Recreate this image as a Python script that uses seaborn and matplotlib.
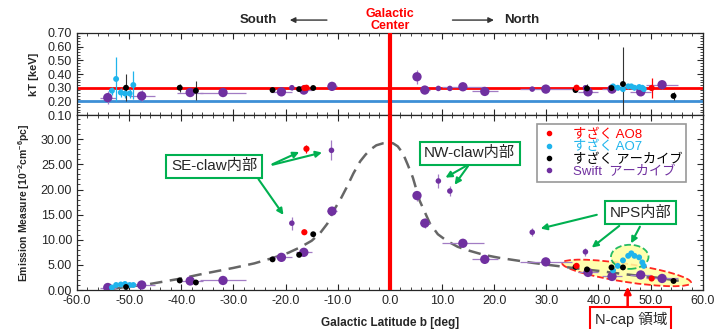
import matplotlib
matplotlib.use("Agg")
import matplotlib.pyplot as plt
from matplotlib.patches import Ellipse, FancyArrowPatch
from matplotlib.lines import Line2D
from matplotlib.ticker import MultipleLocator, FormatStrFormatter
import seaborn as sns

# ---- data ----
# すざく AO8
ao8_b = [-16.0, -16.4, 35.8, 50.2]
ao8_kt = [0.300, 0.298, 0.300, 0.298]
ao8_kt_err = [0.015, 0.01, 0.02, 0.07]
ao8_em = [28.1, 11.5, 4.8, 2.3]
ao8_em_err = [0.8, 0.3, 0.3, 0.2]

# すざく AO7
ao7_b = [-53.3, -52.5, -51.6, -50.8, -49.9, -49.2,
         42.8, 43.7, 44.7, 45.7, 46.3, 46.9, 47.8, 48.4, 48.7]
ao7_kt = [0.278, 0.364, 0.265, 0.258, 0.258, 0.320,
          0.310, 0.300, 0.290, 0.310, 0.310, 0.300, 0.305, 0.300, 0.290]
ao7_kt_err = [0.03, 0.16, 0.03, 0.03, 0.03, 0.10,
              0.02, 0.02, 0.02, 0.02, 0.02, 0.02, 0.02, 0.02, 0.02]
ao7_em = [0.5, 1.0, 1.1, 1.2, 1.0, 1.0,
          3.9, 4.8, 5.9, 6.8, 7.3, 6.8, 6.5, 5.5, 4.8]

# すざく アーカイブ
arc_b = [-50.6, -40.3, -37.2, -22.5, -17.4, -14.7, 35.6, 37.8, 42.5, 44.7, 54.4]
arc_kt = [0.300, 0.300, 0.278, 0.283, 0.290, 0.298, 0.283, 0.295, 0.298, 0.327, 0.240]
arc_kt_err = [0.10, 0.03, 0.07, 0.01, 0.01, 0.01, 0.01, 0.03, 0.01, 0.27, 0.03]
arc_em = [0.6, 1.9, 1.5, 6.1, 7.0, 11.1, 4.6, 4.1, 4.5, 4.5, 1.8]

# Swift アーカイブ (bright fields)
sw_b = [-54.1, -47.6, -38.3, -32.0, -20.8, -16.5, -11.1, 5.2, 6.7, 14.0,
        18.2, 29.9, 38.0, 42.6, 48.1, 52.2]
sw_b_err = [1.5, 2.5, 2.5, 4.5, 2.0, 1.5, 1.0, 0.5, 1.0, 4.0,
            2.5, 5.0, 2.0, 2.0, 2.0, 3.0]
sw_kt = [0.228, 0.240, 0.265, 0.265, 0.270, 0.283, 0.310, 0.380, 0.283, 0.307,
         0.273, 0.290, 0.270, 0.290, 0.270, 0.322]
sw_kt_err = [0.05, 0.04, 0.02, 0.02, 0.01, 0.01, 0.01, 0.05, 0.01, 0.01,
             0.01, 0.01, 0.02, 0.02, 0.02, 0.03]
sw_em = [0.5, 1.0, 1.8, 1.9, 6.5, 7.5, 15.7, 18.8, 13.3, 9.3,
         6.1, 5.6, 3.5, 2.7, 3.0, 2.3]
sw_em_err = [0.3, 0.3, 0.3, 0.3, 0.4, 0.5, 0.6, 1.0, 1.0, 0.6,
             0.5, 0.4, 0.3, 0.3, 0.3, 0.3]

# Swift アーカイブ (faint fields)
swf_b = [-18.8, -11.2, 9.3, 11.5, 27.3, 37.5]
swf_kt = [0.300, 0.310, 0.295, 0.295, 0.290, 0.300]
swf_kt_err = [0.02, 0.03, 0.01, 0.01, 0.01, 0.01]
swf_em = [13.3, 27.8, 21.7, 19.7, 11.5, 7.6]
swf_em_err = [1.3, 2.0, 1.3, 1.0, 0.8, 0.8]

# model curve (dashed gray)
curve_b = [-53.6, -46.0, -40.0, -36.4, -30.0, -26.0, -22.4, -19.5, -17.2, -15.0,
           -13.4, -12.0, -10.9, -9.5, -8.3, -7.0, -5.7, -4.7, -3.8, -2.6, -1.3,
           -0.3, 0.6, 1.5, 2.5, 3.4, 4.4, 5.7, 7.7, 9.2, 10.9, 13.0, 15.3, 18.0,
           21.0, 27.4, 35.0, 40.0, 45.4, 51.7, 55.6]
curve_em = [0.2, 1.2, 2.3, 3.1, 4.4, 5.3, 6.4, 7.4, 8.5, 9.8,
            11.3, 13.2, 15.6, 18.0, 20.4, 23.2, 25.6, 26.9, 27.9, 28.8, 29.2,
            29.3, 29.2, 28.6, 27.2, 25.0, 22.4, 17.8, 13.2, 11.1, 9.8, 8.6, 7.8, 7.0,
            6.4, 5.4, 4.4, 3.8, 3.1, 2.4, 1.8]

legend_labels = ['すざく AO8', 'すざく AO7', 'すざく アーカイブ', 'Swift  アーカイブ']

# ---- style ----
sns.set_style("ticks")
plt.rcParams['font.family'] = ['Liberation Sans', 'Noto Sans CJK JP', 'DejaVu Sans']
plt.rcParams['mathtext.default'] = 'regular'

RED = '#ff0000'
CYAN = '#1fb4ec'
BLACK = '#000000'
PURPLE = '#7030a0'
GREEN = '#00b050'

fig = plt.figure(figsize=(7.23, 3.29), dpi=100)
ax1 = fig.add_axes([0.1065, 0.65, 0.8655, 0.25])
ax2 = fig.add_axes([0.1065, 0.1185, 0.8655, 0.5315])


def draw_panel(ax, key):
    if key == 'kt':
        y_ao8, y_ao7, y_arc, y_sw, y_swf = ao8_kt, ao7_kt, arc_kt, sw_kt, swf_kt
        e_ao8, e_ao7, e_arc, e_sw, e_swf = ao8_kt_err, ao7_kt_err, arc_kt_err, sw_kt_err, swf_kt_err
    else:
        y_ao8, y_ao7, y_arc, y_sw, y_swf = ao8_em, ao7_em, arc_em, sw_em, swf_em
        e_ao8, e_ao7, e_arc, e_sw, e_swf = ao8_em_err, None, None, sw_em_err, swf_em_err

    ax.errorbar(sw_b, y_sw, yerr=e_sw, xerr=sw_b_err, fmt='none',
                ecolor='#a27cc4', elinewidth=0.9, zorder=3)
    ax.errorbar(swf_b, y_swf, yerr=e_swf, fmt='none',
                ecolor='#a27cc4', elinewidth=0.9, zorder=3)
    ax.errorbar(ao8_b, y_ao8, yerr=e_ao8, fmt='none', ecolor=RED, elinewidth=0.9, zorder=3)
    if e_ao7 is not None:
        ax.errorbar(ao7_b, y_ao7, yerr=e_ao7, fmt='none', ecolor=CYAN, elinewidth=0.9, zorder=3)
    if e_arc is not None:
        ax.errorbar(arc_b, y_arc, yerr=e_arc, fmt='none', ecolor='#333333', elinewidth=0.8, zorder=3)

    sns.scatterplot(x=sw_b, y=y_sw, ax=ax, color=PURPLE, s=45, marker='o',
                    edgecolor='none', zorder=4, legend=False)
    sns.scatterplot(x=swf_b, y=y_swf, ax=ax, color=PURPLE, s=16, marker='o',
                    edgecolor='none', zorder=4, legend=False)
    sns.scatterplot(x=ao7_b, y=y_ao7, ax=ax, color=CYAN, s=18, marker='o',
                    edgecolor='none', zorder=5, legend=False)
    sns.scatterplot(x=arc_b, y=y_arc, ax=ax, color=BLACK, s=18, marker='o',
                    edgecolor='none', zorder=5, legend=False)
    sns.scatterplot(x=ao8_b, y=y_ao8, ax=ax, color=RED, s=20, marker='o',
                    edgecolor='none', zorder=5, legend=False)


for ax in (ax1, ax2):
    ax.set_xlim(-60, 60)
    ax.axvline(0, color=RED, lw=3, zorder=6)
    ax.xaxis.set_major_locator(MultipleLocator(10))
    ax.xaxis.set_minor_locator(MultipleLocator(2))
    ax.tick_params(which='both', direction='in', top=True, right=True, labelsize=9)
    ax.tick_params(which='major', length=4, width=0.8)
    ax.tick_params(which='minor', length=2, width=0.6)
    for sp in ax.spines.values():
        sp.set_linewidth(0.9)

# top panel
ax1.axhline(0.30, color=RED, lw=2, zorder=2)
ax1.axhline(0.20, color='#3d8fd6', lw=2, zorder=2)
draw_panel(ax1, 'kt')
ax1.set_ylim(0.10, 0.70)
ax1.yaxis.set_major_locator(MultipleLocator(0.1))
ax1.yaxis.set_minor_locator(MultipleLocator(0.02))
ax1.yaxis.set_major_formatter(FormatStrFormatter('%.2f'))
ax1.tick_params(axis='x', labelbottom=False)
ax1.set_ylabel('kT [keV]', fontsize=8, fontweight='bold', labelpad=6)

# bottom panel
sns.lineplot(x=curve_b, y=curve_em, ax=ax2, color='#666666', lw=1.8,
             linestyle=(0, (5, 3)), zorder=2, sort=False)
draw_panel(ax2, 'em')
ax2.set_ylim(0, 34.8)
ax2.yaxis.set_major_locator(MultipleLocator(5))
ax2.yaxis.set_minor_locator(MultipleLocator(1))
ax2.yaxis.set_major_formatter(FormatStrFormatter('%.2f'))
ax2.xaxis.set_major_formatter(FormatStrFormatter('%.1f'))
ax2.set_ylabel('Emission Measure [10$^{-2}$cm$^{-6}$pc]', fontsize=7.5,
               fontweight='bold', labelpad=6)
ax2.set_xlabel('Galactic Latitude b [deg]', fontsize=8.5, fontweight='bold', labelpad=7)

# highlighted regions
ax2.add_patch(Ellipse((45.4, 3.4), 25.0, 3.6, angle=-9, facecolor='#ffffa0',
                      edgecolor=RED, ls='--', lw=1.3, alpha=0.85, zorder=1))
ax2.add_patch(Ellipse((46.0, 6.6), 7.2, 4.8, facecolor='#ffffa0',
                      edgecolor=GREEN, ls='--', lw=1.3, alpha=0.85, zorder=1))

# legend
handles = [Line2D([], [], marker='o', ls='none', color=c, markersize=3)
           for c in (RED, CYAN, BLACK, PURPLE)]
leg = ax2.legend(handles, legend_labels, loc='upper right', bbox_to_anchor=(0.984, 0.985),
                 fontsize=9.5, frameon=True, fancybox=False, edgecolor='#7f7f7f',
                 handlelength=1.2, handletextpad=1.2, borderpad=0.3, labelspacing=0.0)
leg.get_frame().set_linewidth(1.2)
for txt, c in zip(leg.get_texts(), (RED, CYAN, BLACK, PURPLE)):
    txt.set_color(c)

# callouts
box_g = dict(boxstyle='square,pad=0.3', fc='white', ec=GREEN, lw=1.5)
arr_g = dict(arrowstyle='-|>', color=GREEN, lw=1.5, mutation_scale=9)
ax2.text(-33.7, 24.6, 'SE-claw内部', ha='center', va='center', fontsize=11, bbox=box_g, zorder=8)
ax2.annotate('', xy=(-16.9, 27.7), xytext=(-23.0, 24.8), arrowprops=arr_g, zorder=8)
ax2.annotate('', xy=(-12.5, 27.5), xytext=(-23.0, 24.8), arrowprops=arr_g, zorder=8)
ax2.annotate('', xy=(-20.1, 14.5), xytext=(-25.5, 22.5), arrowprops=arr_g, zorder=8)

ax2.text(15.3, 27.2, 'NW-claw内部', ha='center', va='center', fontsize=11, bbox=box_g, zorder=8)
ax2.annotate('', xy=(10.2, 22.1), xytext=(15.3, 25.1), arrowprops=arr_g, zorder=8)
ax2.annotate('', xy=(12.1, 20.5), xytext=(15.3, 25.1), arrowprops=arr_g, zorder=8)

ax2.text(48.1, 15.4, 'NPS内部', ha='center', va='center', fontsize=11, bbox=box_g, zorder=8)
ax2.annotate('', xy=(28.4, 12.1), xytext=(40.2, 15.1), arrowprops=arr_g, zorder=8)
ax2.annotate('', xy=(38.3, 8.1), xytext=(44.4, 13.1), arrowprops=arr_g, zorder=8)
ax2.annotate('', xy=(46.0, 8.8), xytext=(48.2, 13.1), arrowprops=arr_g, zorder=8)

ax2.text(46.2, -5.8, 'N-cap 領域', ha='center', va='center', fontsize=10.5, zorder=8,
         bbox=dict(boxstyle='square,pad=0.3', fc='white', ec=RED, lw=1.5), clip_on=False)
ax2.annotate('', xy=(45.6, 1.2), xytext=(45.6, -3.9), annotation_clip=False,
             arrowprops=dict(arrowstyle='-|>', color=RED, lw=1.8, mutation_scale=10), zorder=8)

# direction header
fig.text(0.357, 0.939, 'South', ha='center', va='center', fontsize=9.5, fontweight='bold')
fig.text(0.722, 0.939, 'North', ha='center', va='center', fontsize=9.5, fontweight='bold')
fig.text(0.539, 0.94, 'Galactic\nCenter', ha='center', va='center', fontsize=9,
         fontweight='bold', color=RED, linespacing=0.95)
fig.add_artist(FancyArrowPatch((0.456, 0.939), (0.397, 0.939), transform=fig.transFigure,
                               arrowstyle='-|>', mutation_scale=8, color='#333333', lw=1))
fig.add_artist(FancyArrowPatch((0.622, 0.939), (0.687, 0.939), transform=fig.transFigure,
                               arrowstyle='-|>', mutation_scale=8, color='#333333', lw=1))

fig.savefig('out.png', dpi=100)
